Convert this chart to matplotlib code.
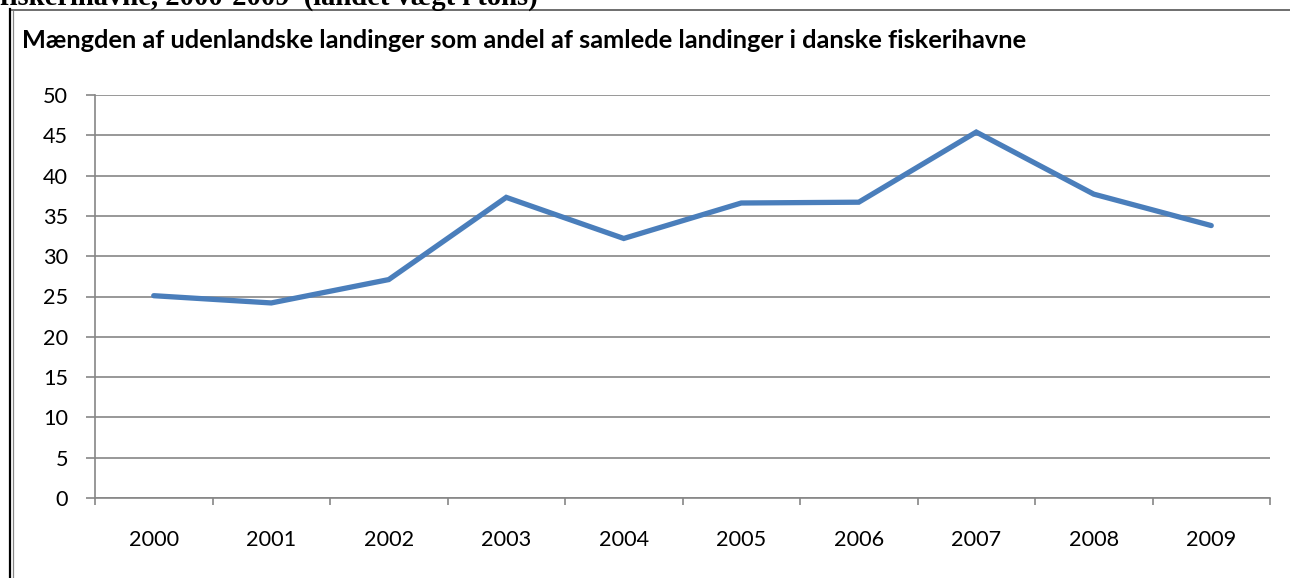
import matplotlib
matplotlib.use("Agg")
import matplotlib.pyplot as plt
from matplotlib.lines import Line2D

years = ["2000", "2001", "2002", "2003", "2004", "2005", "2006", "2007", "2008", "2009"]
share = [25.1, 24.2, 27.1, 37.3, 32.2, 36.6, 36.7, 45.4, 37.7, 33.8]
yticks = [0, 5, 10, 15, 20, 25, 30, 35, 40, 45, 50]

title = "Mængden af udenlandske landinger som andel af samlede landinger i danske fiskerihavne"
top_text = "fiskerihavne, 2000-2009  (landet vægt i tons)"

W, H = 1290, 578
fig = plt.figure(figsize=(W / 100, H / 100), dpi=100)
fig.patch.set_facecolor("white")
renderer = fig.canvas.get_renderer()


def fx(px):
    return px / W


def fy(py):
    return 1 - py / H


def fit_size(txt, family, weight, target_px, start=12.0):
    t = fig.text(0, 0, txt, family=family, fontweight=weight, fontsize=start)
    w = t.get_window_extent(renderer).width
    t.remove()
    return start * target_px / w


# frame lines
fig.add_artist(Line2D([fx(10), fx(1290)], [fy(10), fy(10)], color="#555555", lw=1.2))
fig.add_artist(Line2D([fx(9.5), fx(9.5)], [fy(9), fy(578)], color="black", lw=1.6))
fig.add_artist(Line2D([fx(13), fx(13)], [fy(11), fy(578)], color="#888888", lw=0.9))

# clipped text from the document above
top_fs = fit_size("fiskerihavne, 2000-2009", "Liberation Serif", "bold", 288)
fig.text(fx(0), fy(5), top_text, family="Liberation Serif", fontweight="bold",
         fontsize=top_fs, va="baseline", ha="left")

title_fs = fit_size(title, "Lato", "bold", 1000)
fig.text(fx(22), fy(40), title, family="Lato", fontweight="bold",
         fontsize=title_fs, va="center", ha="left")

tick_fs = fit_size("2000", "Lato", "normal", 50)

ax = fig.add_axes([fx(95), fy(498), fx(1270) - fx(95), fy(95) - fy(498)])
x = list(range(len(years)))
ax.plot(x, share, color="#4A7EBB", lw=3.8, solid_joinstyle="miter", solid_capstyle="round", zorder=3)
ax.set_xlim(-0.5, len(years) - 0.5)
ax.set_ylim(0, 50)
ax.set_yticks(yticks)
ax.set_yticklabels([str(v) for v in yticks], family="Lato", fontsize=tick_fs)
ax.set_xticks(x)
ax.set_xticklabels(years, family="Lato", fontsize=tick_fs)
ax.set_xticks([i - 0.5 for i in range(len(years) + 1)], minor=True)
ax.tick_params(axis="x", which="major", length=0, pad=23)
ax.tick_params(axis="x", which="minor", length=5, width=1.2, color="#868686", direction="out")
ax.tick_params(axis="y", length=6.5, width=1.2, color="#868686", direction="out", pad=13)
ax.grid(axis="y", color="#868686", lw=1.2)
ax.set_axisbelow(True)
for s in ["top", "right"]:
    ax.spines[s].set_visible(False)
for s in ["left", "bottom"]:
    ax.spines[s].set_color("#868686")
    ax.spines[s].set_linewidth(1.2)

fig.savefig("out.png", dpi=100, facecolor="white")
